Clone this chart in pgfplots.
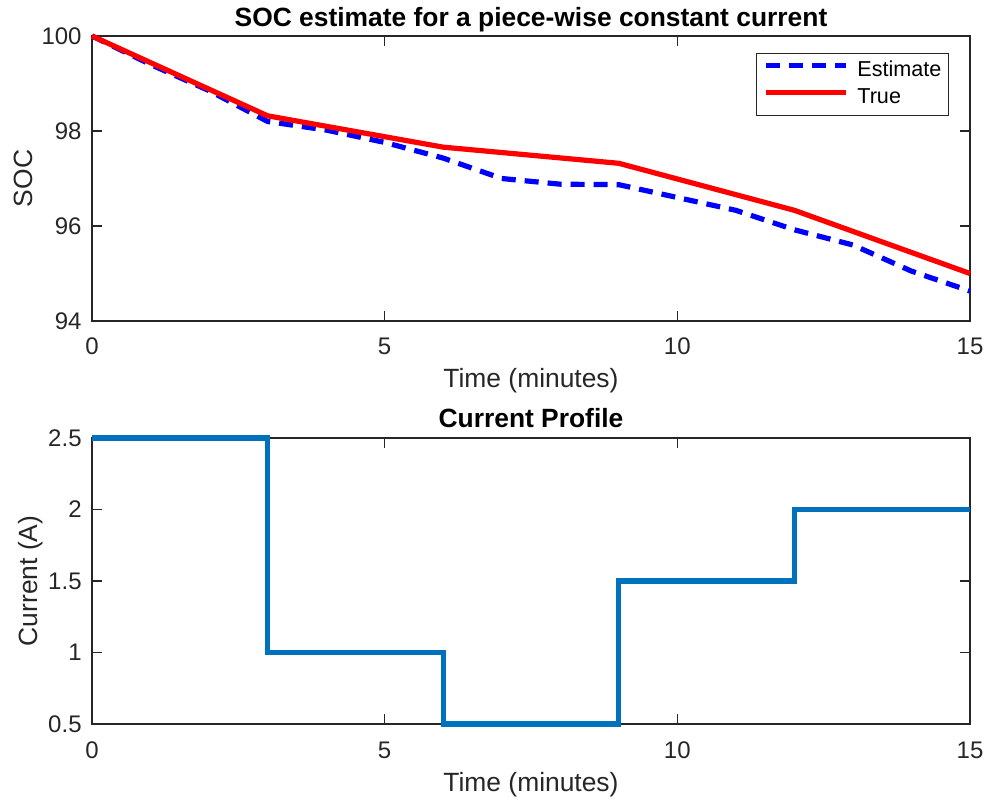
\documentclass[border=0pt]{standalone}
\usepackage{fontspec}
\setmainfont{Liberation Sans}
\usepackage{pgfplots}
\pgfplotsset{compat=1.18}
\definecolor{axgray}{gray}{0.15}
\definecolor{mblue}{rgb}{0,0.447,0.741}
\pgfplotsset{mstyle/.style={
  scale only axis, width=439pt, xmin=0, xmax=15, xtick={0,5,10,15},
  axis line style={axgray, line width=0.6pt},
  tick style={axgray, line width=0.6pt},
  major tick length=5pt, tick align=inside,
  ticklabel style={font=\fontsize{12}{14}\selectfont, text=axgray, inner sep=0pt},
  /pgf/number format/assume math mode=true,
  xticklabel style={anchor=base, yshift=-17pt},
  yticklabel style={anchor=east, xshift=-5pt},
  label style={font=\fontsize{13.2}{16}\selectfont, text=axgray},
  xlabel style={at={(axis description cs:0.5,0)}, anchor=base, yshift=-33.5pt},
  every axis title shift=0pt,
  title style={font=\fontsize{13.2}{16}\selectfont\bfseries, at={(axis description cs:0.5,1)}, anchor=base, yshift=5pt},
  clip=false}}
\begin{document}
\begin{tikzpicture}
\useasboundingbox (0,0) rectangle (495pt,401.5pt);
\begin{axis}[mstyle, at={(46pt,241pt)}, anchor=south west, height=142.5pt,
  ymin=94, ymax=100, ytick={94,96,98,100},
  xlabel={Time (minutes)}, ylabel={SOC},
  ylabel style={at={(axis description cs:-0.0683,0.5)}, anchor=base},
  title={SOC estimate for a piece-wise constant current},
  legend style={at={(axis description cs:0.976,0.940)}, anchor=north east,
    draw=axgray, line width=0.5pt, inner sep=3.5pt,
    font=\fontsize{10.8}{13}\selectfont, text=black,
    nodes={inner sep=0pt, text height=8pt, text depth=2.5pt},
    row sep=3pt, column sep=4.5pt},
  legend cell align=left,
  legend image code/.code={\draw[#1] (0pt,3pt) -- (40pt,3pt);}]
\addplot[blue, line width=2.6pt, dash pattern=on 7pt off 4.5pt] coordinates {
(0,100)(1,99.40)(2,98.85)(3,98.20)(4,98.02)(5,97.76)(6,97.43)(7,97.00)(8,96.88)(9,96.87)(10,96.60)(11,96.33)(12,95.92)(13,95.60)(14,95.05)(15,94.63)};
\addlegendentry{Estimate}
\addplot[red, line width=2.6pt] coordinates {
(0,100)(3,98.32)(6,97.66)(9,97.32)(12,96.33)(15,95.00)};
\addlegendentry{True}
\end{axis}
\begin{axis}[mstyle, at={(46pt,39.5pt)}, anchor=south west, height=143pt,
  ymin=0.5, ymax=2.5, ytick={0.5,1,1.5,2,2.5},
  xlabel={Time (minutes)}, ylabel={Current (A)},
  ylabel style={at={(axis description cs:-0.0626,0.5)}, anchor=base},
  title={Current Profile}]
\addplot[mblue, line width=2.6pt, const plot] coordinates {
(0,2.5)(3,1)(6,0.5)(9,1.5)(12,2)(15,2)};
\end{axis}
\end{tikzpicture}
\end{document}
